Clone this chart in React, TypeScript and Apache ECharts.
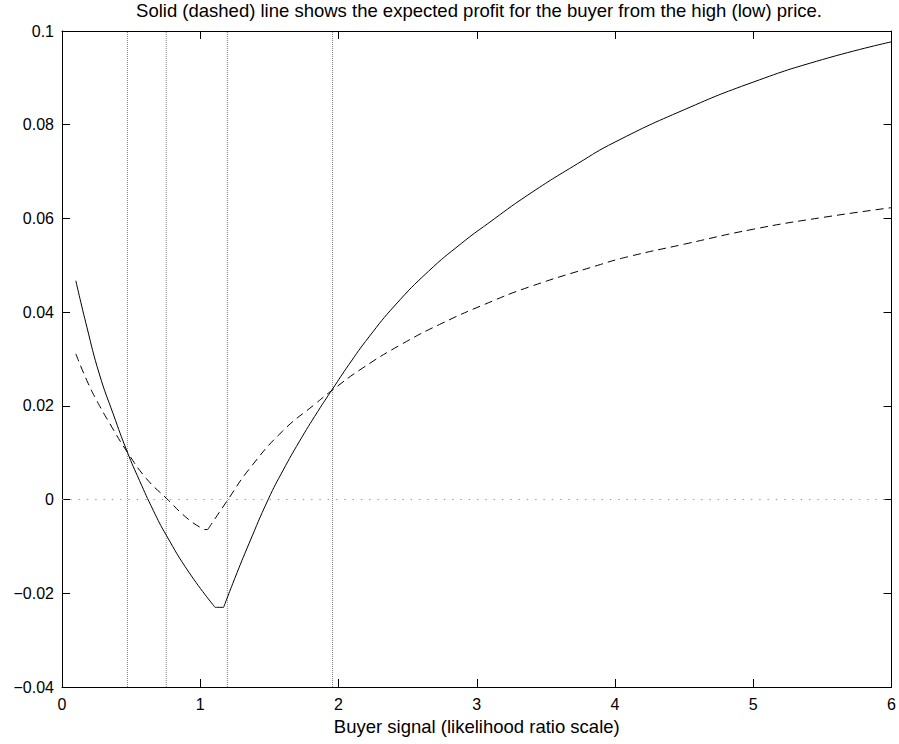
import React, { useEffect, useRef } from "react";
import * as echarts from "echarts";

const titleText = "Solid (dashed) line shows the expected profit for the buyer from the high (low) price.";
const xAxisName = "Buyer signal (likelihood ratio scale)";

const highX = [0.1, 0.18, 0.27, 0.37, 0.473, 0.56, 0.66, 0.754, 0.92, 1.107, 1.169, 1.25, 1.354, 1.491, 1.6, 1.715, 1.85, 1.957, 2.075, 2.22, 2.41, 2.65, 2.89, 3.08, 3.37, 3.73, 4.0, 4.5, 5.0, 5.5, 6.0];
const highY = [0.0467, 0.0368, 0.0268, 0.0183, 0.0101, 0.0041, -0.0023, -0.0076, -0.0156, -0.023, -0.023, -0.0168, -0.0093, 0.0, 0.0063, 0.0123, 0.0188, 0.0236, 0.0288, 0.0347, 0.0415, 0.0487, 0.0547, 0.0589, 0.065, 0.0717, 0.0763, 0.0832, 0.0891, 0.0939, 0.0977];
const highCorners = [9, 10];

const lowX = [0.1, 0.18, 0.25, 0.346, 0.473, 0.61, 0.754, 0.922, 1.03, 1.054, 1.196, 1.354, 1.595, 1.835, 1.957, 2.171, 2.459, 2.747, 3.06, 3.372, 3.876, 4.09, 4.5, 5.0, 5.5, 6.0];
const lowY = [0.0311, 0.0254, 0.0212, 0.0162, 0.0101, 0.0045, 0.0003, -0.0044, -0.0064, -0.0064, -0.0002, 0.0065, 0.0146, 0.0205, 0.0234, 0.028, 0.0332, 0.0376, 0.0417, 0.0453, 0.05, 0.0518, 0.0545, 0.0577, 0.0602, 0.0623];
const lowCorners = [8, 9];

const thresholds = [0.473, 0.754, 1.196, 1.957];

const xTicks = [0, 1, 2, 3, 4, 5, 6];
const yTicks = [-0.04, -0.02, 0, 0.02, 0.04, 0.06, 0.08, 0.1];

const FONT = "Liberation Sans, Arial, Helvetica, sans-serif";

function fmtY(v: number): string {
  const r = Math.round(v * 100) / 100;
  if (Math.abs(r) < 1e-9) return "0";
  const s = String(Math.abs(r));
  return (r < 0 ? "\u2212" : "") + s;
}

function segments(xs: number[], ys: number[], corners: number[]): number[][][] {
  const cuts = [0, ...corners, xs.length - 1];
  const out: number[][][] = [];
  for (let k = 0; k < cuts.length - 1; k++) {
    const seg: number[][] = [];
    for (let i = cuts[k]; i <= cuts[k + 1]; i++) seg.push([xs[i], ys[i]]);
    out.push(seg);
  }
  return out;
}

export default function App() {
  const ref = useRef<HTMLDivElement>(null);
  useEffect(() => {
    if (!ref.current) return;
    const chart = echarts.init(ref.current, undefined, { renderer: "svg" });
    const xMin = xTicks[0];
    const xMax = xTicks[xTicks.length - 1];
    const yMin = yTicks[0];
    const yMax = yTicks[yTicks.length - 1];
    const axisCommon = {
      axisLine: { show: true, onZero: false, lineStyle: { color: "#000", width: 1 } },
      axisTick: { show: true, inside: true, length: 8, lineStyle: { color: "#000", width: 1 } },
      splitLine: { show: false },
    };
    const series: any[] = [];
    series.push({
      type: "line",
      data: [[xMin, 0], [xMax, 0]],
      symbol: "none",
      silent: true,
      lineStyle: { color: "#9a9a9a", width: 1, type: [1.5, 6.8] },
    });
    thresholds.forEach((t) => {
      series.push({
        type: "line",
        data: [[t, yMin], [t, yMax]],
        symbol: "none",
        silent: true,
        lineStyle: { color: "#808080", width: 1, type: [1, 1] },
      });
    });
    segments(highX, highY, highCorners).forEach((seg) => {
      series.push({
        type: "line",
        data: seg,
        symbol: "none",
        smooth: 0.5,
        lineStyle: { color: "#000", width: 1, type: "solid" },
      });
    });
    segments(lowX, lowY, lowCorners).forEach((seg) => {
      series.push({
        type: "line",
        data: seg,
        symbol: "none",
        smooth: 0.5,
        lineStyle: { color: "#000", width: 1, type: [8, 5] },
      });
    });
    chart.setOption({
      animation: false,
      backgroundColor: "#fff",
      title: {
        text: titleText,
        left: 479,
        top: 1,
        textAlign: "center",
        padding: 0,
        textStyle: { fontFamily: FONT, fontSize: 18.5, fontWeight: "normal", color: "#000" },
      },
      grid: { left: 62, right: 4, top: 31, bottom: 57, containLabel: false },
      xAxis: [
        {
          type: "value",
          min: xMin,
          max: xMax,
          interval: 1,
          position: "bottom",
          name: xAxisName,
          nameLocation: "middle",
          nameGap: 30,
          nameTextStyle: { fontFamily: FONT, fontSize: 18.5, color: "#000", verticalAlign: "top" },
          axisLabel: { fontFamily: FONT, fontSize: 16, color: "#000", margin: 9 },
          ...axisCommon,
        },
        {
          type: "value",
          min: xMin,
          max: xMax,
          interval: 1,
          position: "top",
          axisLabel: { show: false },
          ...axisCommon,
        },
      ],
      yAxis: [
        {
          type: "value",
          min: yMin,
          max: yMax,
          interval: 0.02,
          position: "left",
          axisLabel: { fontFamily: FONT, fontSize: 16, color: "#000", margin: 8, formatter: (v: number) => fmtY(v) },
          ...axisCommon,
        },
        {
          type: "value",
          min: yMin,
          max: yMax,
          interval: 0.02,
          position: "right",
          axisLabel: { show: false },
          ...axisCommon,
        },
      ],
      series,
    });
    return () => chart.dispose();
  }, []);
  return <div ref={ref} style={{ width: 899, height: 744, position: "absolute", left: 0, top: 0 }} />;
}
